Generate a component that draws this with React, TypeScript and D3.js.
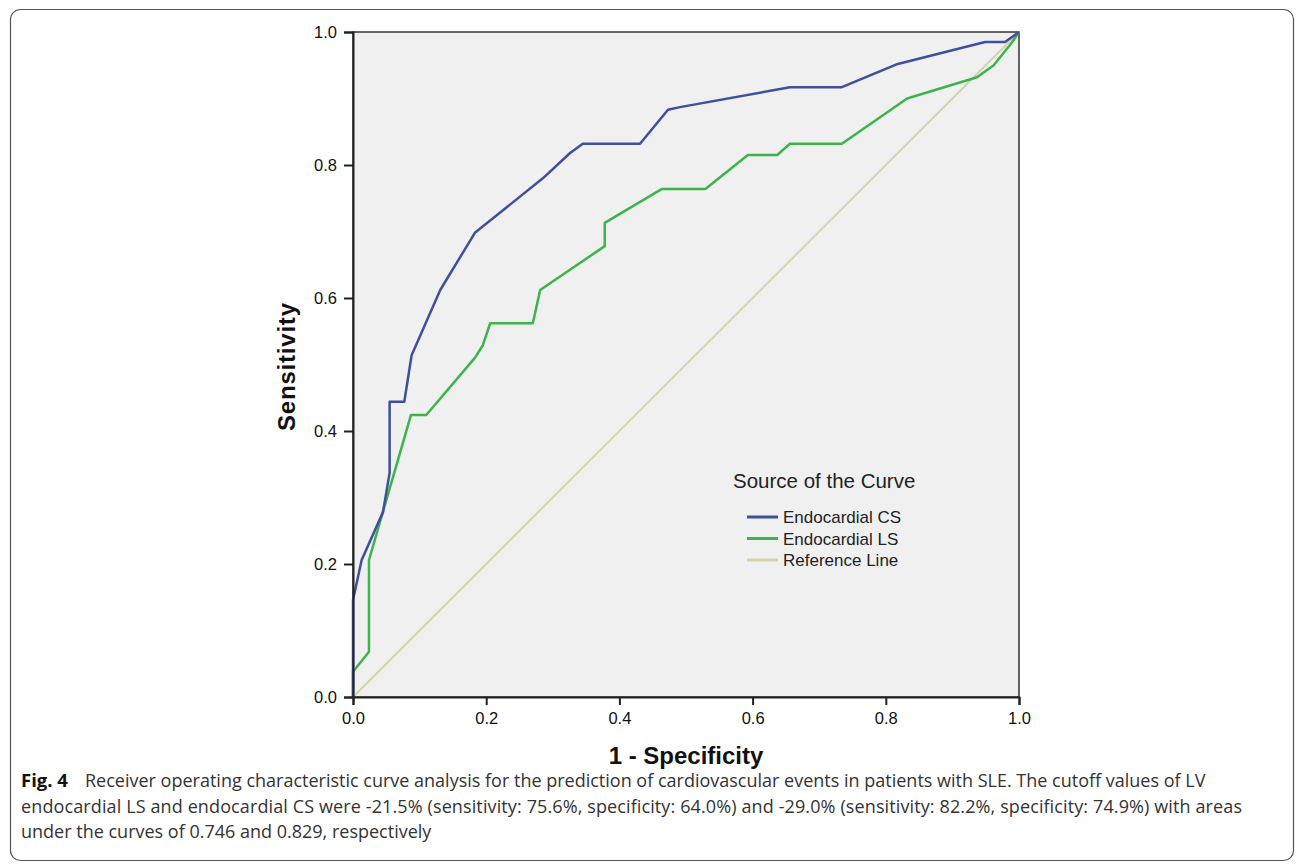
import { useEffect, useRef } from 'react'
import * as d3 from 'd3'

// ROC curve points: [1 - specificity, sensitivity]
const csCurve: Array<[number, number]> = [
  [0, 0], [0, 0.146], [0.013, 0.206], [0.045, 0.278], [0.055, 0.337], [0.055, 0.444],
  [0.077, 0.444], [0.088, 0.514], [0.131, 0.612], [0.183, 0.698], [0.285, 0.78],
  [0.326, 0.818], [0.345, 0.832], [0.431, 0.832], [0.473, 0.883], [0.491, 0.887],
  [0.656, 0.917], [0.734, 0.917], [0.818, 0.952], [0.949, 0.985], [0.979, 0.985], [1, 1],
]
const lsCurve: Array<[number, number]> = [
  [0, 0], [0, 0.038], [0.024, 0.068], [0.024, 0.206], [0.087, 0.424], [0.11, 0.424],
  [0.183, 0.51], [0.195, 0.529], [0.206, 0.562], [0.27, 0.562], [0.281, 0.612],
  [0.378, 0.678], [0.378, 0.713], [0.464, 0.764], [0.529, 0.764], [0.593, 0.815],
  [0.637, 0.815], [0.656, 0.832], [0.734, 0.832], [0.832, 0.9], [0.937, 0.932],
  [0.962, 0.95], [0.99, 0.985], [1, 1],
]
const refLine: Array<[number, number]> = [[0, 0], [1, 1]]

const ticks = [0, 0.2, 0.4, 0.6, 0.8, 1.0]
const legendTitle = 'Source of the Curve'
const seriesNames = ['Endocardial CS', 'Endocardial LS', 'Reference Line']
const seriesColors = ['#3f4f9e', '#3db44b', '#d6d3a6']

const captionBold = 'Fig. 4'
const captionLines = [
  'Receiver operating characteristic curve analysis for the prediction of cardiovascular events in patients with SLE. The cutoff values of LV',
  'endocardial LS and endocardial CS were -21.5% (sensitivity: 75.6%, specificity: 64.0%) and -29.0% (sensitivity: 82.2%, specificity: 74.9%) with areas',
  'under the curves of 0.746 and 0.829, respectively',
]

export default function App(): JSX.Element {
  const ref = useRef<SVGSVGElement>(null)

  useEffect(() => {
    const node = ref.current
    if (!node) return
    const svg = d3.select(node)
    svg.selectAll('*').remove()

    const left = 353, right = 1019, top = 32, bottom = 697
    const arial = '"Liberation Sans", Arial, sans-serif'

    // outer rounded frame
    svg.append('rect')
      .attr('x', 10.5).attr('y', 9.5).attr('width', 1283).attr('height', 851)
      .attr('rx', 10).attr('fill', '#fff').attr('stroke', '#555').attr('stroke-width', 1.2)

    const x = d3.scaleLinear().domain([0, 1]).range([left, right])
    const y = d3.scaleLinear().domain([0, 1]).range([bottom, top])

    svg.append('rect')
      .attr('x', left).attr('y', top).attr('width', right - left).attr('height', bottom - top)
      .attr('fill', '#f0f0f0').attr('stroke', '#333').attr('stroke-width', 1.5)

    const line = d3.line<[number, number]>().x(d => x(d[0])).y(d => y(d[1]))

    const series = [csCurve, lsCurve, refLine]
    const drawOrder = [2, 1, 0]
    drawOrder.forEach(i => {
      svg.append('path')
        .attr('d', line(series[i]) || '')
        .attr('fill', 'none')
        .attr('stroke', seriesColors[i])
        .attr('stroke-width', i === 2 ? 2 : 2.5)
        .attr('stroke-linejoin', 'round')
    })

    const fmt = d3.format('.1f')
    const xAxis = svg.append('g').attr('transform', `translate(0,${bottom})`)
      .call(d3.axisBottom(x).tickValues(ticks).tickFormat(d => fmt(d as number)).tickSize(8).tickPadding(7))
    const yAxis = svg.append('g').attr('transform', `translate(${left},0)`)
      .call(d3.axisLeft(y).tickValues(ticks).tickFormat(d => fmt(d as number)).tickSize(9).tickPadding(7))
    ;[xAxis, yAxis].forEach(a => {
      a.select('.domain').attr('stroke', '#222').attr('stroke-width', 2)
      a.selectAll('.tick line').attr('stroke', '#222').attr('stroke-width', 2)
      a.selectAll('.tick text')
        .attr('font-family', arial)
        .attr('font-size', 16.5).attr('fill', '#111')
    })

    // axis titles
    svg.append('text')
      .attr('x', (left + right) / 2).attr('y', 764)
      .attr('text-anchor', 'middle')
      .attr('font-family', arial)
      .attr('font-size', 24).attr('font-weight', 'bold').attr('fill', '#111')
      .text('1 - Specificity')
    svg.append('text')
      .attr('transform', `translate(295,${367}) rotate(-90)`)
      .attr('text-anchor', 'middle')
      .attr('font-family', arial)
      .attr('font-size', 24).attr('font-weight', 'bold').attr('fill', '#111')
      .attr('textLength', 128).attr('lengthAdjust', 'spacing')
      .text('Sensitivity')

    // legend
    const lg = svg.append('g').attr('font-family', arial).attr('fill', '#222')
    lg.append('text').attr('x', 733).attr('y', 488).attr('font-size', 20.5).text(legendTitle)
    seriesNames.forEach((name, i) => {
      const ly = 517 + i * 21.5
      lg.append('line').attr('x1', 747).attr('x2', 778).attr('y1', ly).attr('y2', ly)
        .attr('stroke', seriesColors[i]).attr('stroke-width', 3)
      lg.append('text').attr('x', 783).attr('y', ly + 6).attr('font-size', 17).text(name)
    })

    // caption
    const cap = svg.append('g')
      .attr('font-family', '"Open Sans", "Noto Sans", sans-serif')
      .attr('font-size', 18).attr('fill', '#333')
    cap.append('text').attr('x', 21).attr('y', 787)
      .attr('font-weight', 'bold').attr('font-size', 18.5).attr('fill', '#111').text(captionBold)
    captionLines.forEach((t, i) => {
      const tx = cap.append('text')
        .attr('x', i === 0 ? 85 : 21)
        .attr('y', 787 + i * 25.5)
        .text(t)
      if (i === 1) tx.attr('textLength', 1221).attr('lengthAdjust', 'spacing')
    })
  }, [])

  return (
    <div style={{ position: 'absolute', left: 0, top: 0 }}>
      <svg ref={ref} width={1296} height={868} />
    </div>
  )
}
